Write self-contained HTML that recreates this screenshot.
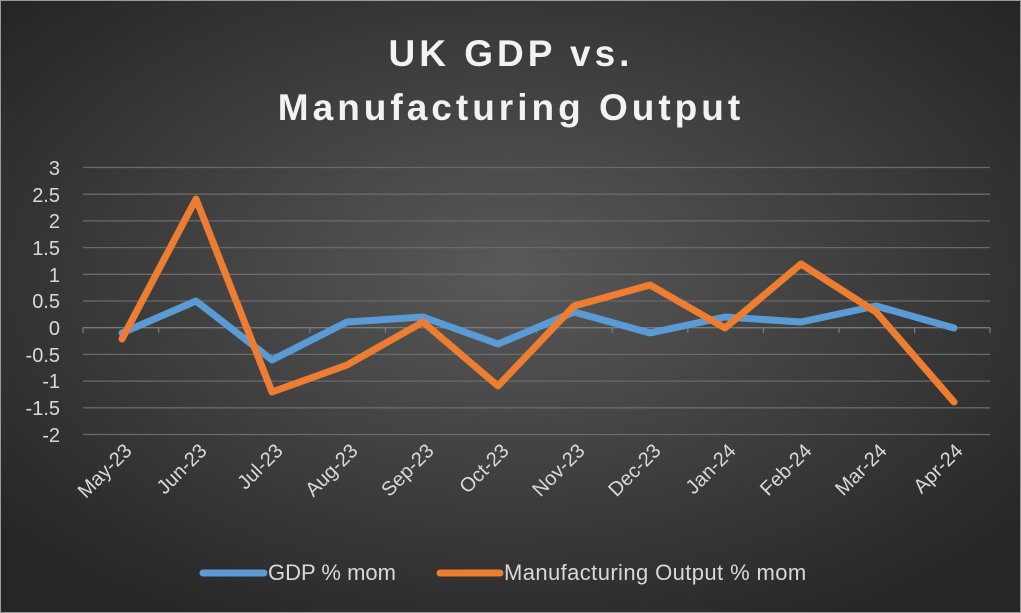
<!DOCTYPE html>
<html><head><meta charset="utf-8"><style>
html,body{margin:0;padding:0;background:#222}
svg{display:block}
text{font-family:"Liberation Sans",sans-serif}
</style></head><body>
<svg width="1021" height="613" viewBox="0 0 1021 613" xmlns="http://www.w3.org/2000/svg">
<defs>
<radialGradient id="bg" cx="50%" cy="45%" r="65%">
<stop offset="0" stop-color="#595959"/>
<stop offset="1" stop-color="#262626"/>
</radialGradient>
</defs>
<rect width="1021" height="613" fill="url(#bg)"/>
<rect x="0.5" y="0.5" width="1020" height="612" fill="none" stroke="#9a9a9a"/>
<g fill="#f2f2f2" font-weight="bold" font-size="37" text-anchor="middle" letter-spacing="4">
<text x="511" y="66">UK GDP vs.</text>
<text x="511" y="120">Manufacturing Output</text>
</g>
<g stroke="#6a6a6a" stroke-width="1.3">
<line x1="83" x2="990" y1="167.5" y2="167.5"/>
<line x1="83" x2="990" y1="194.2" y2="194.2"/>
<line x1="83" x2="990" y1="220.9" y2="220.9"/>
<line x1="83" x2="990" y1="247.6" y2="247.6"/>
<line x1="83" x2="990" y1="274.3" y2="274.3"/>
<line x1="83" x2="990" y1="301" y2="301"/>
<line x1="83" x2="990" y1="354.4" y2="354.4"/>
<line x1="83" x2="990" y1="381.1" y2="381.1"/>
<line x1="83" x2="990" y1="407.8" y2="407.8"/>
<line x1="83" x2="990" y1="434.5" y2="434.5"/>
</g>
<g stroke="#7a7a7a" stroke-width="1.3">
<line x1="83" x2="990" y1="327.7" y2="327.7"/>
<line x1="83" x2="83" y1="327.7" y2="333"/><line x1="158.6" x2="158.6" y1="327.7" y2="333"/><line x1="234.2" x2="234.2" y1="327.7" y2="333"/><line x1="309.8" x2="309.8" y1="327.7" y2="333"/><line x1="385.4" x2="385.4" y1="327.7" y2="333"/><line x1="461" x2="461" y1="327.7" y2="333"/><line x1="536.6" x2="536.6" y1="327.7" y2="333"/><line x1="612.2" x2="612.2" y1="327.7" y2="333"/><line x1="687.8" x2="687.8" y1="327.7" y2="333"/><line x1="763.4" x2="763.4" y1="327.7" y2="333"/><line x1="839" x2="839" y1="327.7" y2="333"/><line x1="914.6" x2="914.6" y1="327.7" y2="333"/><line x1="990" x2="990" y1="327.7" y2="333"/>
</g>
<g fill="#d9d9d9" font-size="20" text-anchor="end">
<text x="60" y="175">3</text>
<text x="60" y="202">2.5</text>
<text x="60" y="228">2</text>
<text x="60" y="255">1.5</text>
<text x="60" y="282">1</text>
<text x="60" y="308">0.5</text>
<text x="60" y="335">0</text>
<text x="60" y="362">-0.5</text>
<text x="60" y="388">-1</text>
<text x="60" y="415">-1.5</text>
<text x="60" y="442">-2</text>
</g>
<g fill="#d9d9d9" font-size="20" text-anchor="end">
<text transform="translate(133,452) rotate(-45)">May-23</text>
<text transform="translate(208,452) rotate(-45)">Jun-23</text>
<text transform="translate(284,452) rotate(-45)">Jul-23</text>
<text transform="translate(359,452) rotate(-45)">Aug-23</text>
<text transform="translate(435,452) rotate(-45)">Sep-23</text>
<text transform="translate(510,452) rotate(-45)">Oct-23</text>
<text transform="translate(586,452) rotate(-45)">Nov-23</text>
<text transform="translate(662,452) rotate(-45)">Dec-23</text>
<text transform="translate(737,452) rotate(-45)">Jan-24</text>
<text transform="translate(813,452) rotate(-45)">Feb-24</text>
<text transform="translate(888,452) rotate(-45)">Mar-24</text>
<text transform="translate(964,452) rotate(-45)">Apr-24</text>
</g>
<polyline fill="none" stroke="#5b9bd5" stroke-width="7" stroke-linejoin="round" stroke-linecap="round"
points="122,333 196,301 272,360 347,322 423,317 498,344 574,312 650,333 725,317 801,322 876,306 954,328"/>
<polyline fill="none" stroke="#ed7d31" stroke-width="7" stroke-linejoin="round" stroke-linecap="round"
points="122,339 196,199 272,392 347,365 423,322 498,386 574,306 650,285 725,328 801,264 876,312 954,402"/>
<line x1="203" y1="573" x2="264" y2="573" stroke="#5b9bd5" stroke-width="7" stroke-linecap="round"/>
<text x="268" y="580" fill="#d9d9d9" font-size="22">GDP % mom</text>
<line x1="440" y1="573" x2="500" y2="573" stroke="#ed7d31" stroke-width="7" stroke-linecap="round"/>
<text x="504" y="580" fill="#d9d9d9" font-size="22" letter-spacing="0.4">Manufacturing Output % mom</text>
</svg>
</body></html>
